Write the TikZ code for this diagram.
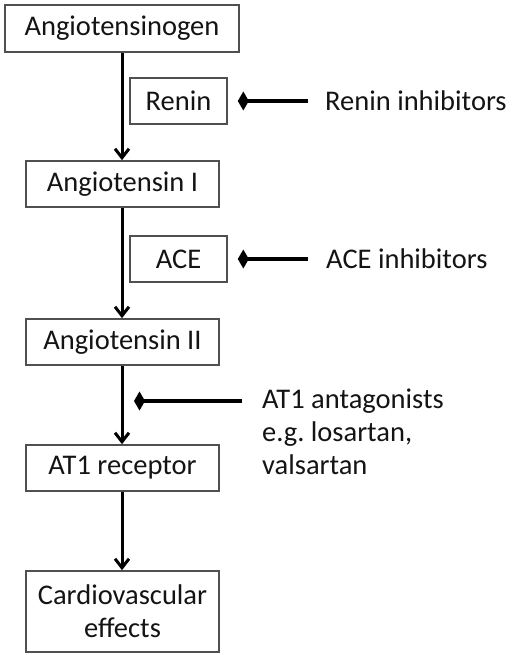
\documentclass[tikz,border=0pt]{standalone}
\usepackage{fontspec}
\setmainfont{Carlito}
\usetikzlibrary{arrows.meta}
\frenchspacing
\definecolor{boxline}{HTML}{505050}
\definecolor{txt}{HTML}{141414}
\tikzset{
  box/.style={draw=boxline, line width=1.6pt, rectangle, inner sep=0pt, text=txt, align=center,
              font=\fontsize{28.5}{33}\selectfont},
  lbl/.style={inner sep=0pt, text=txt, align=left, font=\fontsize{28.5}{33}\selectfont},
  flow/.style={line width=3pt, -{Straight Barb[length=9pt,width=14pt]}},
  block/.style={line width=4.5pt, -{Diamond[length=11pt,width=19pt]}}
}
\begin{document}
\begin{tikzpicture}[x=1pt,y=-1pt]
\useasboundingbox[fill=white] (0,0) rectangle (512,655);
% main chain
\node[box, minimum width=234pt, minimum height=47pt] (ag) at (122,28.5) {Angiotensinogen};
\node[box, minimum width=97pt, minimum height=46pt] (renin) at (178.5,101) {Renin};
\node[box, minimum width=193pt, minimum height=46pt] (a1) at (122.5,184) {Angiotensin I};
\node[box, minimum width=97pt, minimum height=46pt] (ace) at (178.5,259) {ACE};
\node[box, minimum width=193pt, minimum height=46pt] (a2) at (122.5,342) {Angiotensin II};
\node[box, minimum width=193pt, minimum height=46pt] (at1) at (122.5,468) {AT1 receptor};
\node[box, minimum width=193pt, minimum height=81pt] (cv) at (122.5,611.5) {Cardiovascular\\effects};
% side labels
\node[lbl, anchor=west] (rinh) at (325,101) {Renin inhibitors};
\node[lbl, anchor=west] (ainh) at (326,259) {ACE inhibitors};
\node[lbl, anchor=west] (atinh) at (262,432) {AT1 antagonists\\e.g.\ losartan,\\valsartan};
% flow arrows
\draw[flow] (ag.south) -- (ag.south |- a1.north);
\draw[flow] (a1.south -| ag.south) -- (ag.south |- a2.north);
\draw[flow] (a2.south -| ag.south) -- (ag.south |- at1.north);
\draw[flow] (at1.south -| ag.south) -- (ag.south |- cv.north);
% inhibition
\coordinate (renend) at ([xshift=-17pt]rinh.west);
\coordinate (aceend) at ([xshift=-18pt]ainh.west);
\coordinate (atend) at (242,401);
\coordinate (attip) at (134,401);
\draw[block] (renend) -- ([xshift=10pt]renin.east);
\draw[block] (aceend) -- ([xshift=10pt]ace.east);
\draw[block] (atend) -- (attip);
\end{tikzpicture}
\end{document}
